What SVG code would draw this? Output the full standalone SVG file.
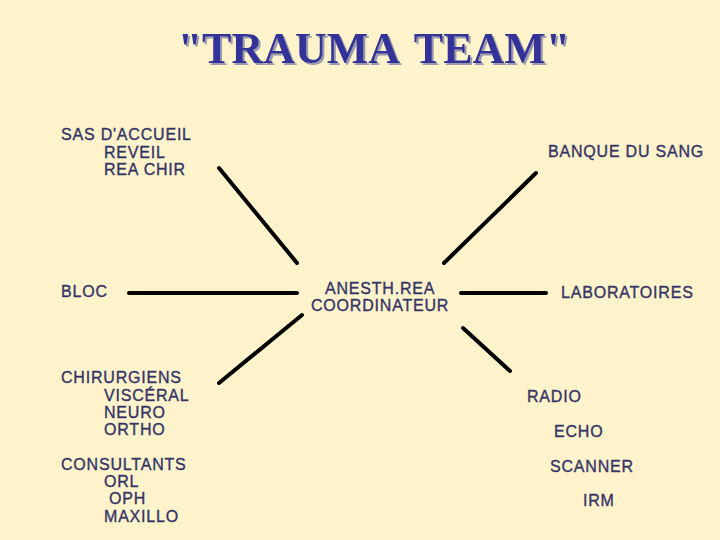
<svg xmlns="http://www.w3.org/2000/svg" width="720" height="540" viewBox="0 0 720 540">
<defs>
<filter id="sh" x="-5%" y="-20%" width="110%" height="140%">
<feDropShadow dx="2" dy="2" stdDeviation="0.6" flood-color="#9a9aae" flood-opacity="1"/>
</filter>
</defs>
<style>
.t{font-family:"Liberation Sans",Arial,sans-serif;font-size:16px;fill:#333366;stroke:#333366;stroke-width:0.35px;letter-spacing:0.8px}
.ttl{font-family:"Liberation Serif","Times New Roman",serif;font-size:44px;font-weight:bold;fill:#333399;text-anchor:middle;word-spacing:6px}
.c line{stroke:#000;stroke-width:4;stroke-linecap:round}
</style>
<rect width="720" height="540" fill="#fff3cb"/>
<g id="title">
<text class="ttl" x="374" y="63" filter="url(#sh)">"TRAUMA TEAM"</text>
</g>
<g class="c" id="connectors">
<line x1="219" y1="168" x2="297" y2="263"/>
<line x1="536" y1="173" x2="444" y2="263"/>
<line x1="129" y1="293" x2="297" y2="293"/>
<line x1="461" y1="293" x2="546" y2="293"/>
<line x1="219" y1="383" x2="302" y2="315"/>
<line x1="463" y1="328" x2="510" y2="371"/>
</g>
<g id="sas"><text class="t" x="61" y="140">SAS D'ACCUEIL</text><text class="t" x="104" y="158">REVEIL</text><text class="t" x="104" y="175">REA CHIR</text></g>
<g id="banque"><text class="t" x="548" y="157">BANQUE DU SANG</text></g>
<g id="bloc"><text class="t" x="61" y="297">BLOC</text></g>
<g id="anesth"><text class="t" x="325" y="294">ANESTH.REA</text><text class="t" x="311" y="311">COORDINATEUR</text></g>
<g id="labo"><text class="t" x="561" y="298">LABORATOIRES</text></g>
<g id="chir"><text class="t" x="61" y="383">CHIRURGIENS</text><text class="t" x="104" y="401">VISCÉRAL</text><text class="t" x="104" y="418">NEURO</text><text class="t" x="104" y="435">ORTHO</text></g>
<g id="consult"><text class="t" x="61" y="470">CONSULTANTS</text><text class="t" x="104" y="487">ORL</text><text class="t" x="109" y="504">OPH</text><text class="t" x="104" y="522">MAXILLO</text></g>
<g id="radio"><text class="t" x="527" y="402">RADIO</text></g>
<g id="echo"><text class="t" x="554" y="437">ECHO</text></g>
<g id="scanner"><text class="t" x="550" y="472">SCANNER</text></g>
<g id="irm"><text class="t" x="583" y="506">IRM</text></g>
</svg>
